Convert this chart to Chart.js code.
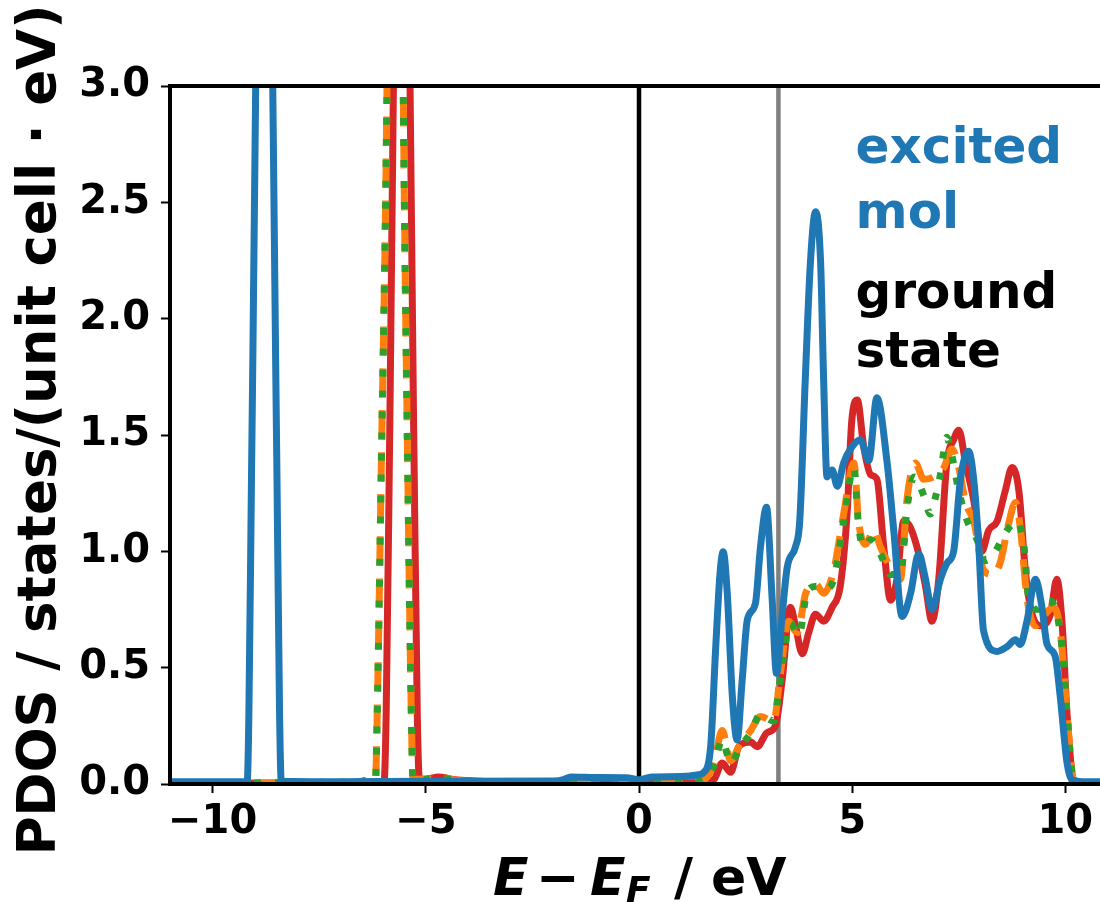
<!DOCTYPE html>
<html>
<head>
<meta charset="utf-8">
<script src="https://cdn.jsdelivr.net/npm/chart.js@4.4.1/dist/chart.umd.min.js"></script>
<style>
  html, body { margin: 0; padding: 0; background: #fff; overflow: hidden; }
  #wrap { width: 1100px; height: 902px; overflow: hidden; }
  canvas { display: block; }
</style>
</head>
<body>
<div id="wrap"><canvas id="pdosChart" width="1130" height="902"></canvas></div>
<script>
// excited molecule (blue)
const molE = [-11, -9.5, -9.19, -9.15, -9.09, -8.99, -8.89, -8.79, -8.69, -8.59, -8.49, -8.43, -8.39,
    -7, -5, -2.0, -1.75, -1.6, -1.0, -0.3, 0, 0.3, 1.0, 1.4, 1.52,
    1.68, 1.80, 1.90, 1.975, 2.07, 2.19, 2.30, 2.42, 2.54, 2.73,
    2.85, 2.99, 3.12, 3.225, 3.36, 3.475, 3.67, 3.77, 3.90, 4.02,
    4.14, 4.26, 4.33, 4.41, 4.53, 4.65, 4.80, 4.96, 5.19, 5.39,
    5.58, 5.82, 5.975, 6.17, 6.37, 6.56, 6.72, 6.87, 7.07, 7.225,
    7.38, 7.54, 7.73, 7.85, 7.97, 8.08, 8.40, 8.63, 8.83, 8.94,
    9.10, 9.30, 9.45, 9.57, 9.76, 9.88, 10.04, 10.155, 10.4, 11];
const molPdos = [0.01, 0.01, 0.01, 0.3, 1.3, 3.0, 5.5, 7.0, 5.5, 3.0, 1.3, 0.3, 0.012,
    0.01, 0.012, 0.013, 0.02, 0.03, 0.028, 0.027, 0.018, 0.03, 0.032, 0.04, 0.05,
    0.16, 0.59, 0.905, 0.998, 0.82, 0.375, 0.189, 0.447, 0.705, 0.776,
    1.02, 1.19, 0.805, 0.475, 0.73, 0.93, 1.02, 1.13, 1.74, 2.24,
    2.46, 2.24, 1.74, 1.32, 1.35, 1.28, 1.38, 1.44, 1.48, 1.39,
    1.66, 1.38, 1.09, 0.72, 0.82, 0.99, 0.88, 0.75, 0.88, 0.95,
    1.00, 1.31, 1.43, 1.31, 1.02, 0.66, 0.57, 0.59, 0.62, 0.60,
    0.70, 0.88, 0.76, 0.60, 0.55, 0.375, 0.09, 0.017, 0.01, 0.01];

// ground state, red solid
const redE = [-11, -7, -6.3, -6.05, -5.98, -5.93, -5.86, -5.76, -5.66, -5.565,
    -5.47, -5.37, -5.27, -5.2, -5.15, -5.0, -4.7, -4.4, -3.5, -2,
    0, 1.0, 1.5, 1.76, 1.95, 2.15, 2.34, 2.62, 2.77, 3.00,
    3.20, 3.36, 3.55, 3.67, 3.83, 3.98, 4.14, 4.33, 4.53, 4.72,
    4.88, 4.99, 5.12, 5.27, 5.43, 5.58, 5.74, 5.90, 6.05, 6.21,
    6.37, 6.56, 6.72, 6.87, 7.03, 7.22, 7.38, 7.50, 7.66, 7.85,
    8.04, 8.20, 8.40, 8.59, 8.75, 8.91, 9.07, 9.22, 9.41, 9.65,
    9.80, 9.92, 10.04, 10.19, 10.4, 11];
const redPdos = [0.003, 0.005, 0.008, 0.01, 0.01, 0.3, 1.3, 3.0, 5.5, 7.0,
    5.5, 3.0, 1.3, 0.3, 0.02, 0.02, 0.03, 0.02, 0.01, 0.006,
    0.005, 0.005, 0.008, 0.02, 0.09, 0.05, 0.16, 0.18, 0.16, 0.22,
    0.25, 0.45, 0.76, 0.68, 0.56, 0.65, 0.73, 0.70, 0.76, 0.85,
    1.16, 1.56, 1.65, 1.45, 1.33, 1.31, 1.02, 0.79, 0.88, 1.13,
    1.10, 0.99, 0.85, 0.70, 0.88, 1.38, 1.48, 1.52, 1.38, 1.22,
    1.00, 1.09, 1.13, 1.26, 1.36, 1.26, 0.90, 0.73, 0.68, 0.73,
    0.88, 0.70, 0.30, 0.02, 0.005, 0.003];

// ground state, orange dashed
const orangeE = [-11, -7, -6.5, -6.3, -6.18, -6.14, -6.05, -5.91, -5.80, -5.72,
    -5.63, -5.53, -5.42, -5.34, -5.3, -5.0, -4.7, -4.4, -3.5, -2,
    0, 1.0, 1.5, 1.76, 1.95, 2.15, 2.34, 2.62, 2.85, 3.16,
    3.32, 3.51, 3.71, 3.91, 4.14, 4.33, 4.57, 4.80, 5.04, 5.15,
    5.31, 5.51, 5.66, 5.90, 6.13, 6.29, 6.48, 6.68, 6.91, 7.15,
    7.34, 7.50, 7.66, 7.85, 8.08, 8.28, 8.47, 8.67, 8.83, 8.95,
    9.10, 9.30, 9.53, 9.72, 9.88, 10.04, 10.19, 10.4, 11];
const orangePdos = [0.003, 0.006, 0.01, 0.02, 0.02, 0.3, 1.3, 3.0, 5.5, 7.0,
    5.5, 3.0, 1.3, 0.3, 0.02, 0.02, 0.035, 0.02, 0.01, 0.006,
    0.005, 0.006, 0.015, 0.09, 0.23, 0.10, 0.16, 0.23, 0.29, 0.27,
    0.48, 0.70, 0.65, 0.82, 0.86, 0.82, 0.92, 1.16, 1.38, 1.13,
    1.03, 1.09, 1.02, 0.93, 0.88, 1.23, 1.38, 1.31, 1.32, 1.36,
    1.44, 1.36, 1.21, 1.13, 0.92, 0.90, 0.95, 1.12, 1.21, 1.09,
    0.80, 0.68, 0.73, 0.76, 0.66, 0.30, 0.02, 0.005, 0.003];

// ground state, green dotted
const greenE = [-11, -7, -6.5, -6.3, -6.18, -6.14, -6.05, -5.91, -5.80, -5.72,
    -5.63, -5.53, -5.42, -5.34, -5.3, -5.0, -4.75, -4.4, -3.5, -2,
    0, 1.0, 1.5, 1.76, 1.95, 2.15, 2.38, 2.62, 2.85, 3.16,
    3.32, 3.55, 3.75, 3.95, 4.18, 4.37, 4.57, 4.80, 5.04, 5.15,
    5.27, 5.43, 5.66, 5.90, 6.13, 6.29, 6.45, 6.68, 6.83, 6.95,
    7.07, 7.22, 7.34, 7.50, 7.70, 7.93, 8.12, 8.36, 8.59, 8.87,
    9.03, 9.14, 9.34, 9.57, 9.75, 9.92, 10.04, 10.19, 10.4, 11];
const greenPdos = [0.003, 0.008, 0.012, 0.025, 0.02, 0.3, 1.3, 3.0, 5.5, 7.0,
    5.5, 3.0, 1.3, 0.3, 0.02, 0.02, 0.03, 0.02, 0.01, 0.006,
    0.005, 0.006, 0.015, 0.08, 0.19, 0.09, 0.16, 0.22, 0.30, 0.27,
    0.46, 0.69, 0.64, 0.83, 0.85, 0.84, 0.88, 1.13, 1.36, 1.11,
    1.02, 1.05, 0.99, 0.90, 0.90, 1.19, 1.32, 1.24, 1.16, 1.23,
    1.33, 1.49, 1.41, 1.26, 1.13, 1.05, 0.96, 1.00, 1.08, 1.13,
    1.02, 0.80, 0.75, 0.79, 0.76, 0.59, 0.30, 0.02, 0.005, 0.003];

// vertical markers
const fermiLevel = 0;
const gapMarker = 3.27;
const markerY = [0, 3];

const xTicks = [-10, -5, 0, 5, 10];
const yTicks = [0, 0.5, 1.0, 1.5, 2.0, 2.5, 3.0];

const notes = [
    { text: 'excited', color: '#1f77b4', x: 5.08, y: 2.669 },
    { text: 'mol', color: '#1f77b4', x: 5.08, y: 2.39 },
    { text: 'ground', color: '#000000', x: 5.08, y: 2.046 },
    { text: 'state', color: '#000000', x: 5.08, y: 1.792 }
];

function toPoints(xs, ys) {
    return xs.map((x, i) => ({ x: x, y: ys[i] }));
}

const FONT = '"DejaVu Sans", sans-serif';

const frameAndText = {
    id: 'frameAndText',
    afterDatasetsDraw(chart) {
        const { ctx, chartArea: a } = chart;
        ctx.save();
        ctx.strokeStyle = '#000';
        ctx.lineWidth = 4;
        ctx.strokeRect(a.left, a.top, a.right - a.left, a.bottom - a.top);
        ctx.restore();
    },
    afterDraw(chart) {
        const { ctx, chartArea: a, scales: { x, y } } = chart;
        ctx.save();

        // annotations
        ctx.font = 'bold 50px ' + FONT;
        ctx.textAlign = 'left';
        ctx.textBaseline = 'alphabetic';
        notes.forEach(n => {
            ctx.fillStyle = n.color;
            ctx.fillText(n.text, x.getPixelForValue(n.x), y.getPixelForValue(n.y));
        });

        // y title
        ctx.fillStyle = '#000';
        ctx.save();
        ctx.translate(55, (a.top + a.bottom) / 2 - 5);
        ctx.rotate(-Math.PI / 2);
        ctx.font = 'bold 53px ' + FONT;
        ctx.textAlign = 'center';
        ctx.fillText('PDOS / states/(unit cell \u00b7 eV)', 0, 0);
        ctx.restore();

        // x title: E − E_F / eV
        const x0 = (a.left + a.right) / 2 - 146;
        const base = a.bottom + 111;
        ctx.textAlign = 'left';
        ctx.font = 'italic bold 52px ' + FONT;
        ctx.fillText('E', x0, base);
        ctx.font = 'bold 52px ' + FONT;
        ctx.fillText('\u2212', x0 + 43, base);
        ctx.font = 'italic bold 52px ' + FONT;
        ctx.fillText('E', x0 + 97, base);
        ctx.font = 'italic bold 36px ' + FONT;
        ctx.fillText('F', x0 + 133, base + 7);
        ctx.font = 'bold 52px ' + FONT;
        ctx.fillText('/ eV', x0 + 181, base);

        ctx.restore();
    }
};

Chart.defaults.font.family = FONT;
Chart.defaults.color = '#000';

const ctx = document.getElementById('pdosChart').getContext('2d');
new Chart(ctx, {
    type: 'line',
    data: {
        datasets: [
            {
                label: 'excited mol',
                data: toPoints(molE, molPdos),
                borderColor: '#1f77b4',
                borderWidth: 7,
                order: 0
            },
            {
                label: 'ground state (green)',
                data: toPoints(greenE, greenPdos),
                borderColor: '#2ca02c',
                borderWidth: 7,
                borderDash: [7, 14],
                order: 1
            },
            {
                label: 'ground state (orange)',
                data: toPoints(orangeE, orangePdos),
                borderColor: '#ff7f0e',
                borderWidth: 7,
                borderDash: [29, 13],
                order: 2
            },
            {
                label: 'ground state (red)',
                data: toPoints(redE, redPdos),
                borderColor: '#d62728',
                borderWidth: 7,
                order: 3
            },
            {
                label: 'gap',
                data: markerY.map(v => ({ x: gapMarker, y: v })),
                borderColor: '#7f7f7f',
                borderWidth: 4.5,
                cubicInterpolationMode: 'default',
                order: 4
            },
            {
                label: 'E_F',
                data: markerY.map(v => ({ x: fermiLevel, y: v })),
                borderColor: '#000000',
                borderWidth: 4.5,
                cubicInterpolationMode: 'default',
                order: 5
            }
        ]
    },
    options: {
        responsive: false,
        animation: false,
        devicePixelRatio: 1,
        layout: { padding: { top: 86, right: 22, left: 0, bottom: 0 } },
        elements: {
            point: { radius: 0 },
            line: { cubicInterpolationMode: 'monotone', borderCapStyle: 'butt' }
        },
        datasets: { line: { clip: 2 } },
        scales: {
            x: {
                type: 'linear',
                min: -11,
                max: 11,
                afterBuildTicks: (scale) => { scale.ticks = xTicks.map(v => ({ value: v })); },
                afterFit: (scale) => { scale.height = 118; },
                border: { display: false },
                grid: { drawOnChartArea: false, drawTicks: true, tickLength: 9, tickWidth: 2, tickColor: '#000' },
                ticks: {
                    padding: 6,
                    color: '#000',
                    font: { size: 40, weight: 'bold' },
                    callback: (v) => String(v).replace('-', '\u2212')
                }
            },
            y: {
                type: 'linear',
                min: 0,
                max: 3,
                afterBuildTicks: (scale) => { scale.ticks = yTicks.map(v => ({ value: v })); },
                afterFit: (scale) => { scale.width = 170; },
                border: { display: false },
                grid: { drawOnChartArea: false, drawTicks: true, tickLength: 9, tickWidth: 2, tickColor: '#000' },
                ticks: {
                    padding: 11,
                    color: '#000',
                    font: { size: 40, weight: 'bold' },
                    callback: (v) => Number(v).toFixed(1)
                }
            }
        },
        plugins: {
            legend: { display: false },
            tooltip: { enabled: false },
            title: { display: false }
        }
    },
    plugins: [frameAndText]
});
</script>
</body>
</html>
